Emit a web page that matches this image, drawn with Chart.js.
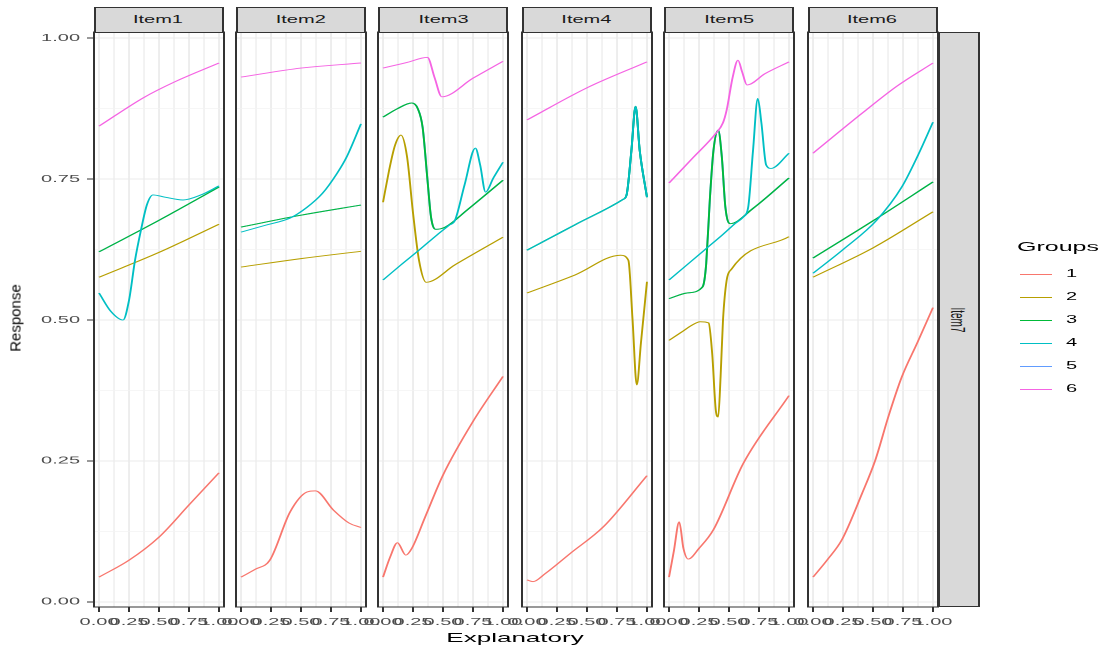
<!DOCTYPE html>
<html>
<head>
<meta charset="utf-8">
<script src="https://cdn.jsdelivr.net/npm/chart.js@4.4.0/dist/chart.umd.min.js"></script>
<style>
  html, body { margin: 0; padding: 0; background: #fff; }
  body { width: 1105px; height: 651px; overflow: hidden; position: relative;
         font-family: "Liberation Sans", Arial, sans-serif; }
  /* the figure is laid out at half width, then stretched like the original */
  #fig { position: absolute; left: 0; top: 0; width: 552.5px; height: 651px;
         transform: scaleX(2); transform-origin: 0 0; }
  .panel { position: absolute; top: 27px; width: 120px; height: 610px; }
  .strip { position: absolute; box-sizing: border-box; background: #d9d9d9;
           border: 1px solid #333; color: #1a1a1a; font-size: 10px; text-align: center; }
  .strip.top { top: 7px; height: 25.5px; width: 65px; line-height: 23px; }
  .strip.right { top: 32px; height: 575px; width: 21px; }
  .strip.right span { position: absolute; left: 50%; top: 50%; white-space: nowrap;
                      transform: translate(-50%, -50%) rotate(90deg); }
  .lab { position: absolute; white-space: nowrap; }
  .key { position: absolute; left: 510px; width: 16px; height: 1px; }
</style>
</head>
<body>
<div id="fig"></div>
<div class="lab" id="ytitle" style="left:15px;top:318px;font-size:15px;color:#000;transform:translate(-50%,-50%) rotate(-90deg);">Response</div>

<script>
/* ---------- data ---------- */
const panelNames = ['Item1', 'Item2', 'Item3', 'Item4', 'Item5', 'Item6'];
const rowStrip   = 'Item7';
const groupNames = ['1', '2', '3', '4', '5', '6'];
const majorTicks = [0, 0.25, 0.5, 0.75, 1];

// each panel: one list of [x, y] knots per group 1..6
// (group 5 never shows on its own: it runs under group 3)
const item1 = [
  [[0,0.044],[0.25,0.074],[0.5,0.115],[0.75,0.172],[1,0.229]],
  [[0,0.576],[0.5,0.62],[1,0.670]],
  [[0,0.621],[0.5,0.677],[1,0.736]],
  [[0,0.548],[0.1,0.515],[0.2,0.500],[0.25,0.535],[0.3,0.606],[0.35,0.66],[0.4,0.705],[0.45,0.722],[0.55,0.718],[0.7,0.713],[0.85,0.722],[1,0.738]],
  [[0,0.621],[0.5,0.677],[1,0.736]],
  [[0,0.844],[0.375,0.895],[0.625,0.922],[1,0.956]]
];
const item2 = [
  [[0,0.044],[0.12,0.058],[0.24,0.074],[0.41,0.160],[0.55,0.195],[0.62,0.197],[0.77,0.163],[0.9,0.14],[1,0.132]],
  [[0,0.594],[0.5,0.609],[1,0.622]],
  [[0,0.665],[0.5,0.686],[1,0.704]],
  [[0,0.656],[0.2,0.668],[0.41,0.681],[0.55,0.70],[0.68,0.725],[0.8,0.76],[0.88,0.789],[1,0.848]],
  [[0,0.665],[0.5,0.686],[1,0.704]],
  [[0,0.931],[0.5,0.947],[1,0.956]]
];
const item3 = [
  [[0,0.044],[0.06,0.08],[0.12,0.105],[0.19,0.083],[0.24,0.095],[0.35,0.15],[0.5,0.225],[0.75,0.32],[1,0.40]],
  [[0,0.709],[0.05,0.765],[0.1,0.81],[0.15,0.828],[0.2,0.79],[0.25,0.69],[0.3,0.606],[0.36,0.567],[0.6,0.598],[1,0.647]],
  [[0,0.86],[0.12,0.875],[0.24,0.885],[0.29,0.875],[0.33,0.842],[0.37,0.75],[0.4,0.683],[0.44,0.661],[0.52,0.665],[0.7,0.695],[1,0.748]],
  [[0,0.571],[0.15,0.598],[0.3,0.624],[0.45,0.651],[0.55,0.668],[0.6,0.677],[0.68,0.74],[0.77,0.805],[0.81,0.775],[0.855,0.727],[0.92,0.752],[1,0.78]],
  [[0,0.86],[0.12,0.875],[0.24,0.885],[0.29,0.875],[0.33,0.842],[0.37,0.75],[0.4,0.683],[0.44,0.661],[0.52,0.665],[0.7,0.695],[1,0.748]],
  [[0,0.947],[0.2,0.957],[0.37,0.966],[0.43,0.93],[0.49,0.896],[0.75,0.929],[1,0.959]]
];
const item4 = [
  [[0,0.039],[0.05,0.036],[0.15,0.05],[0.36,0.086],[0.64,0.134],[1,0.224]],
  [[0,0.548],[0.4,0.58],[0.78,0.615],[0.845,0.606],[0.88,0.50],[0.915,0.385],[0.95,0.46],[1,0.568]],
  [[0,0.624],[0.4,0.669],[0.8,0.714],[0.83,0.722],[0.87,0.80],[0.905,0.879],[0.94,0.80],[1,0.718]],
  [[0,0.624],[0.4,0.669],[0.8,0.714],[0.83,0.722],[0.87,0.80],[0.905,0.879],[0.94,0.80],[1,0.718]],
  [[0,0.624],[0.4,0.669],[0.8,0.714],[0.83,0.722],[0.87,0.80],[0.905,0.879],[0.94,0.80],[1,0.718]],
  [[0,0.855],[0.5,0.912],[1,0.958]]
];
const item5 = [
  [[0,0.044],[0.04,0.09],[0.085,0.142],[0.12,0.095],[0.16,0.076],[0.25,0.095],[0.37,0.128],[0.62,0.246],[1,0.366]],
  [[0,0.464],[0.1,0.478],[0.2,0.492],[0.26,0.497],[0.33,0.495],[0.36,0.44],[0.39,0.34],[0.41,0.328],[0.43,0.40],[0.45,0.50],[0.48,0.57],[0.52,0.59],[1,0.648]],
  [[0,0.538],[0.15,0.548],[0.28,0.559],[0.31,0.60],[0.34,0.713],[0.37,0.80],[0.41,0.837],[0.44,0.79],[0.47,0.70],[0.51,0.671],[0.7,0.698],[1,0.752]],
  [[0,0.571],[0.15,0.598],[0.3,0.625],[0.45,0.652],[0.55,0.671],[0.62,0.683],[0.66,0.70],[0.7,0.80],[0.74,0.893],[0.77,0.85],[0.81,0.775],[0.85,0.769],[1,0.796]],
  [[0,0.538],[0.15,0.548],[0.28,0.559],[0.31,0.60],[0.34,0.713],[0.37,0.80],[0.41,0.837],[0.44,0.79],[0.47,0.70],[0.51,0.671],[0.7,0.698],[1,0.752]],
  [[0,0.743],[0.2,0.788],[0.39,0.831],[0.45,0.85],[0.48,0.872],[0.53,0.93],[0.575,0.961],[0.61,0.94],[0.65,0.917],[0.8,0.937],[1,0.958]]
];
const item6 = [
  [[0,0.044],[0.12,0.075],[0.24,0.11],[0.41,0.193],[0.52,0.252],[0.63,0.33],[0.74,0.399],[0.87,0.46],[1,0.522]],
  [[0,0.576],[0.5,0.628],[1,0.692]],
  [[0,0.61],[0.5,0.676],[1,0.745]],
  [[0,0.583],[0.25,0.625],[0.53,0.677],[0.74,0.736],[0.87,0.79],[1,0.851]],
  [[0,0.61],[0.5,0.676],[1,0.745]],
  [[0,0.796],[0.41,0.867],[0.7,0.915],[1,0.956]]
];
const panelData = [item1, item2, item3, item4, item5, item6];

/* ---------- style ---------- */
const groupColors = ['#F8766D', '#B79F00', '#00BA38', '#00BFC4', '#619CFF', '#F564E3'];
const drawOrder   = [5, 4, 2, 1, 3, 0];   // lower = on top
const FONT = '"Liberation Sans", Arial, sans-serif';
Chart.defaults.font.family = FONT;

const isMajor = v => majorTicks.some(t => Math.abs(t - v) < 1e-6);
const panelLeft = i => 46.5 + 71.4 * i;   // half-width coords

const panelBorder = {
  id: 'panelBorder',
  afterDatasetsDraw(chart) {
    const { ctx, chartArea: a } = chart;
    ctx.save();
    ctx.strokeStyle = '#333333';
    ctx.lineWidth = 1;
    ctx.strokeRect(a.left, a.top, a.right - a.left, a.bottom - a.top);
    ctx.restore();
  }
};

const fig = document.getElementById('fig');

panelNames.forEach((name, i) => {
  const box = document.createElement('div');
  box.className = 'panel';
  box.style.left = (panelLeft(i) - 47) + 'px';
  const cv = document.createElement('canvas');
  cv.width = 120; cv.height = 610;
  box.appendChild(cv);
  fig.appendChild(box);

  const strip = document.createElement('div');
  strip.className = 'strip top';
  strip.style.left = panelLeft(i) + 'px';
  strip.textContent = name;
  fig.appendChild(strip);

  const datasets = panelData[i].map((pts, g) => ({
    label: groupNames[g],
    data: pts.map(([x, y]) => ({ x, y })),
    borderColor: groupColors[g],
    borderWidth: 0.95,
    pointRadius: 0,
    fill: false,
    cubicInterpolationMode: 'monotone',
    order: drawOrder[g]
  }));

  new Chart(cv, {
    type: 'line',
    data: { datasets },
    options: {
      responsive: false,
      devicePixelRatio: 2,
      animation: false,
      events: [],
      layout: { padding: { top: 5, right: 8, left: 0, bottom: 0 } },
      plugins: { legend: { display: false }, tooltip: { enabled: false } },
      scales: {
        x: {
          type: 'linear', min: -0.042, max: 1.042,
          afterFit: s => { s.height = 30; s.paddingLeft = 0; s.paddingRight = 0; },
          border: { display: false },
          grid: {
            color: c => (c.tick && isMajor(c.tick.value)) ? '#dcdcdc' : '#e6e6e6',
            lineWidth: 0.5,
            drawTicks: true, tickLength: 5, tickWidth: 1,
            tickColor: c => (c.tick && isMajor(c.tick.value)) ? '#333333' : 'rgba(0,0,0,0)'
          },
          ticks: {
            stepSize: 0.125, includeBounds: false, autoSkip: false,
            maxRotation: 0, minRotation: 0, padding: 4,
            color: '#4d4d4d', font: { size: 10 },
            callback: v => isMajor(v) ? v.toFixed(2) : ''
          }
        },
        y: {
          min: -0.009, max: 1.011,
          afterFit: s => { s.width = 47; s.paddingTop = 0; s.paddingBottom = 0; },
          border: { display: false },
          grid: {
            color: c => (c.tick && isMajor(c.tick.value)) ? '#ebebeb' : '#f3f3f3',
            lineWidth: c => (c.tick && isMajor(c.tick.value)) ? 1 : 0.7,
            drawTicks: i === 0, tickLength: 3.5, tickWidth: 1,
            tickColor: c => (c.tick && isMajor(c.tick.value)) ? '#333333' : 'rgba(0,0,0,0)'
          },
          ticks: {
            display: i === 0,
            stepSize: 0.125, includeBounds: false, autoSkip: false, padding: 3.5,
            color: '#4d4d4d', font: { size: 10 },
            callback: v => isMajor(v) ? v.toFixed(2) : ''
          }
        }
      }
    },
    plugins: [panelBorder]
  });
});

// right-hand facet strip
const rStrip = document.createElement('div');
rStrip.className = 'strip right';
rStrip.style.left = (panelLeft(5) + 65) + 'px';
rStrip.innerHTML = '<span>' + rowStrip + '</span>';
fig.appendChild(rStrip);

// x title
const xt = document.createElement('div');
xt.className = 'lab';
xt.style.cssText = 'left:257.5px;top:637px;font-size:13px;color:#000;transform:translate(-50%,-50%);';
xt.textContent = 'Explanatory';
fig.appendChild(xt);

// legend
const lt = document.createElement('div');
lt.className = 'lab';
lt.style.cssText = 'left:508.5px;top:240px;font-size:12.5px;line-height:14px;color:#000;';
lt.textContent = 'Groups';
fig.appendChild(lt);
groupNames.forEach((g, k) => {
  const y = 274 + 23 * k;
  const key = document.createElement('div');
  key.className = 'key';
  key.style.top = (y - 0.5) + 'px';
  key.style.background = groupColors[k];
  fig.appendChild(key);
  const t = document.createElement('div');
  t.className = 'lab';
  t.style.cssText = 'left:533px;top:' + (y - 6) + 'px;font-size:10px;line-height:12px;color:#000;';
  t.textContent = g;
  fig.appendChild(t);
});
</script>
</body>
</html>
